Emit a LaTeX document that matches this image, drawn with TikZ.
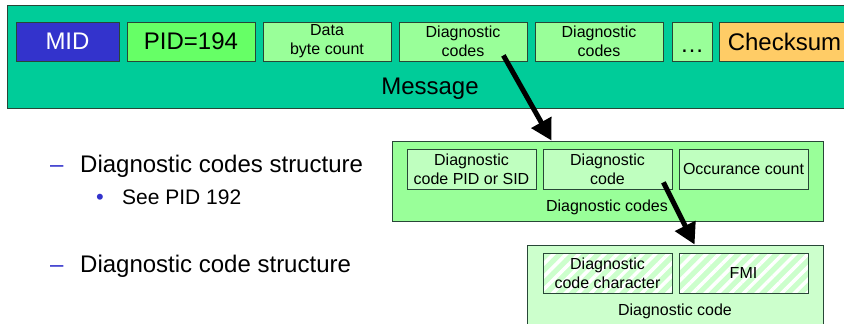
\documentclass[tikz,border=0pt]{standalone}
\usepackage{fontspec}
\setmainfont{Liberation Sans}
\usetikzlibrary{positioning,arrows.meta,calc,patterns.meta}
\definecolor{MsgTeal}{RGB}{0,204,153}
\definecolor{MidBlue}{RGB}{51,51,204}
\definecolor{PidGreen}{RGB}{102,255,102}
\definecolor{FieldGreen}{RGB}{153,255,153}
\definecolor{PaleGreen}{RGB}{191,255,191}
\definecolor{MintGreen}{RGB}{204,255,204}
\definecolor{SumOrange}{RGB}{255,204,102}
\definecolor{EdgeGray}{RGB}{40,70,55}

\begin{document}
\begin{tikzpicture}[
  x=1pt, y=-1pt,
  every node/.style={font=\fontsize{16}{19}\selectfont, inner sep=0pt},
  field/.style={draw=EdgeGray, fill=FieldGreen, align=center, minimum height=39pt, line width=0.8pt},
  bigfield/.style={field, font=\fontsize{24}{28}\selectfont},
  frame/.style={draw=EdgeGray, line width=0.8pt},
  subfield/.style={field, fill=PaleGreen, minimum width=129pt, minimum height=40pt},
  hatched/.style={draw=EdgeGray, align=center, minimum width=129pt, minimum height=40pt, line width=0.8pt,
    preaction={fill=MintGreen}, pattern={Lines[angle=45,distance=9pt,line width=3.5pt]}, pattern color=white},
  arrow/.style={-{Triangle[length=21pt,width=22pt]}, line width=5pt},
  itemtext/.style={font=\fontsize{24}{28}\selectfont, anchor=base west},
  itemdash/.style={itemtext, text=MidBlue}
]
\useasboundingbox (0,0) rectangle (844,324);

% message frame
\node[frame, fill=MsgTeal, minimum width=845pt, minimum height=103pt] (msg) at (429.5,56.5) {};
\node[font=\fontsize{24}{28}\selectfont] (msglabel) at (430,88.5) {Message};
\node[bigfield, fill=MidBlue, text=white, minimum width=103pt] (mid) at (67.5,41.5) {MID};
\node[bigfield, fill=PidGreen, minimum width=128pt] (pid) at (191,41.5) {PID=194};
\node[field, minimum width=128pt] (bytecount) at (327,41.5) {Data\\byte count};
\node[field, minimum width=128pt] (dcodesA) at (463,41.5) {Diagnostic\\codes};
\node[field, minimum width=128pt] (dcodesB) at (599,41.5) {Diagnostic\\codes};
\node[bigfield, minimum width=40pt, text height=22pt, text depth=0pt] (more) at (692,41.5) {\dots};
\node[bigfield, fill=SumOrange, minimum width=131pt] (checksum) at (784.5,41.5) {Checksum};

% diagnostic codes frame
\node[frame, fill=FieldGreen, minimum width=431pt, minimum height=80pt] (codes) at (607.5,181) {};
\node (codeslabel) at (607,207) {Diagnostic codes};
\node[subfield] (pidsid) at (471.5,169) {Diagnostic\\code PID or SID};
\node[subfield] (dcode) at (607.5,169) {Diagnostic\\code};
\node[subfield] (occur) at (743.5,169) {Occurance count};

% diagnostic code frame
\node[frame, fill=MintGreen, minimum width=296pt, minimum height=95pt] (code) at (675,292.5) {};
\node (codelabel) at (675,311) {Diagnostic code};
\node[hatched] (dchar) at (607.5,273) {Diagnostic\\code character};
\node[hatched] (fmi) at (743.5,273) {FMI};

\draw[arrow] ($(dcodesA.south east)+(-24,-6)$) -- ($(codes.north west)+(160,0)$);
\draw[arrow] ($(dcode.south east)+(-9,-7)$) -- ($(code.north west)+(168,0)$);

% bullet list
\node[itemdash] (dash1) at (50,172) {–};
\node[itemtext] (item1) at (80,172) {Diagnostic codes structure};
\node[itemdash, font=\fontsize{22}{25}\selectfont] (dot1) at (96,204) {•};
\node[itemtext, font=\fontsize{21}{25}\selectfont] (item1a) at (122,204) {See PID 192};
\node[itemdash] (dash2) at (50,272) {–};
\node[itemtext] (item2) at (80,272) {Diagnostic code structure};
\end{tikzpicture}
\end{document}
